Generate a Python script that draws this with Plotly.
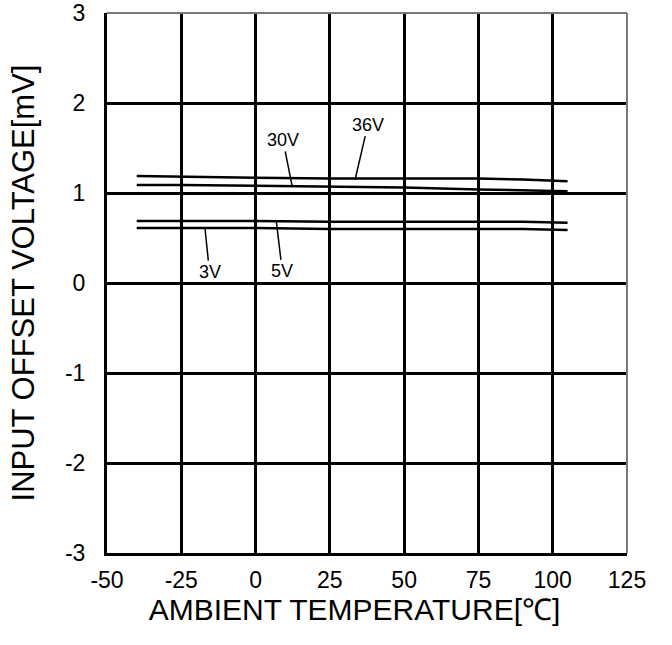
import plotly.graph_objects as go

temps = [-40, -25, 0, 25, 50, 75, 90, 105]
v36 = [1.19, 1.18, 1.17, 1.16, 1.16, 1.16, 1.15, 1.13]
v30 = [1.09, 1.09, 1.08, 1.07, 1.06, 1.04, 1.03, 1.02]
v5 = [0.69, 0.69, 0.69, 0.68, 0.68, 0.68, 0.68, 0.67]
v3 = [0.61, 0.61, 0.61, 0.60, 0.60, 0.60, 0.60, 0.59]

x_ticks = [-50, -25, 0, 25, 50, 75, 100, 125]
x_text = ["-50", "-25", "0", "25", "50", "75", "100", "125"]
y_ticks = [-3, -2, -1, 0, 1, 2, 3]
y_text = ["-3", "-2", "-1", "0", "1", "2", "3"]

# label text pos (tx, ty) and where the leader touches the curve (px, py)
labels = [
    ("36V", 37.8, 1.76, 33.5, 1.15),
    ("30V", 9.2, 1.59, 12.3, 1.08),
    ("3V", -15.5, 0.12, -17.0, 0.60),
    ("5V", 9.0, 0.13, 7.0, 0.68),
]

FONT = "Liberation Sans, Arial, sans-serif"

fig = go.Figure()
for ys in (v36, v30, v5, v3):
    fig.add_trace(go.Scatter(x=temps, y=ys, mode="lines",
                             line=dict(color="black", width=2.5)))

for txt, tx, ty, px, py in labels:
    fig.add_annotation(x=px, y=py, ax=tx, ay=ty, axref="x", ayref="y",
                       text=txt, showarrow=True, arrowhead=0, arrowwidth=1.5,
                       arrowcolor="black", font=dict(size=18, color="black"))

fig.update_layout(
    width=672, height=645, margin=dict(l=107, r=45, t=13, b=92),
    paper_bgcolor="white", plot_bgcolor="white", showlegend=False,
    font=dict(family=FONT, size=23, color="black"),
)
fig.update_xaxes(range=[-50, 125], tickvals=x_ticks, ticktext=x_text, showgrid=True,
                 gridcolor="black", gridwidth=3, zeroline=False, automargin=False,
                 showline=True, linecolor="black", linewidth=3,
                 ticks="", ticklabelstandoff=4,
                 title=dict(text="AMBIENT TEMPERATURE[℃]&nbsp;&nbsp;&nbsp;", font=dict(size=30), standoff=1))
fig.update_yaxes(range=[-3, 3], tickvals=y_ticks, ticktext=y_text, showgrid=True,
                 gridcolor="black", gridwidth=3, zeroline=False, automargin=False,
                 showline=True, linecolor="black", linewidth=3,
                 ticks="", ticklabelstandoff=14,
                 title=dict(text="INPUT OFFSET VOLTAGE[mV]", font=dict(size=31), standoff=22))
# lighter top / right frame
fig.add_shape(type="line", xref="paper", yref="paper", x0=0, x1=1, y0=1, y1=1,
              line=dict(color="#777777", width=2))
fig.add_shape(type="line", xref="paper", yref="paper", x0=1, x1=1, y0=0, y1=1,
              line=dict(color="#777777", width=2))

fig.write_html("out.html", config={"displayModeBar": False},
               post_script="document.body.style.margin='0';")
